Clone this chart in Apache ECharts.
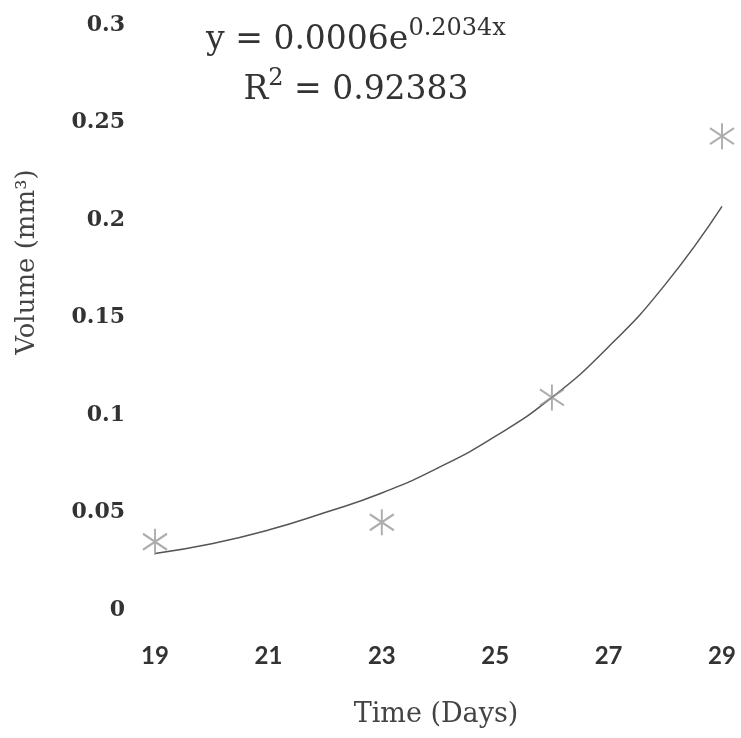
<!DOCTYPE html>
<html>
<head>
<meta charset="utf-8">
<title>Volume vs Time</title>
<script src="https://cdn.jsdelivr.net/npm/echarts@6/dist/echarts.min.js"></script>
<style>
  html, body { margin: 0; padding: 0; background: #fff; }
  #chart { width: 741px; height: 738px; }
</style>
</head>
<body>
<div id="chart"></div>
<script>
// measured points (day, volume)
var days = [19, 23, 26, 29];
var volumes = [0.035, 0.045, 0.109, 0.243];

// exponential trendline
var trendDays = [19, 20, 21, 22, 23, 24, 25, 26, 27, 28, 29];
var trendVolumes = [0.029, 0.034, 0.041, 0.050, 0.060, 0.073, 0.089, 0.109, 0.135, 0.167, 0.207];

var yTicks = { min: 0, max: 0.3, step: 0.05 };
var xTicks = { min: 19, max: 29, step: 2 };

var scatterData = days.map(function (d, i) { return [d, volumes[i]]; });
var trendData = trendDays.map(function (d, i) { return [d, trendVolumes[i]]; });

var chart = echarts.init(document.getElementById('chart'));

var option = {
  backgroundColor: '#fff',
  animation: false,
  grid: { left: 155, right: 19, top: 25, bottom: 128 },
  xAxis: {
    type: 'value',
    min: xTicks.min,
    max: xTicks.max,
    interval: xTicks.step,
    axisLine: { show: false },
    axisTick: { show: false },
    splitLine: { show: false },
    axisLabel: {
      margin: 34,
      color: '#333',
      fontFamily: 'Lato',
      fontWeight: 'bold',
      fontSize: 24
    }
  },
  yAxis: {
    type: 'value',
    min: yTicks.min,
    max: yTicks.max,
    interval: yTicks.step,
    axisLine: { show: false },
    axisTick: { show: false },
    splitLine: { show: false },
    axisLabel: {
      margin: 30,
      color: '#333',
      fontFamily: 'DejaVu Serif',
      fontWeight: 'bold',
      fontSize: 22
    }
  },
  graphic: [
    {
      type: 'text',
      x: 356,
      y: 15,
      style: {
        text: '{a|y = 0.0006e}{s|0.2034x}\n{a|R}{s|2}{a| = 0.92383}',
        align: 'center',
        fill: '#333',
        rich: {
          a: { fontFamily: 'DejaVu Serif', fontSize: 33, lineHeight: 50, color: '#333' },
          s: { fontFamily: 'DejaVu Serif', fontSize: 24, lineHeight: 24, verticalAlign: 'top', padding: [2, 0, 0, 0], color: '#333' }
        }
      }
    },
    {
      type: 'text',
      x: 436,
      y: 715,
      style: {
        text: 'Time (Days)',
        align: 'center',
        verticalAlign: 'middle',
        fontFamily: 'DejaVu Serif',
        fontSize: 27,
        fill: '#444'
      }
    },
    {
      type: 'text',
      x: 27,
      y: 262,
      rotation: Math.PI / 2,
      style: {
        text: 'Volume (mm³)',
        align: 'center',
        verticalAlign: 'middle',
        fontFamily: 'DejaVu Serif',
        fontSize: 26,
        fill: '#444'
      }
    }
  ],
  series: [
    {
      name: 'Trend',
      type: 'line',
      data: trendData,
      smooth: 0.5,
      showSymbol: false,
      lineStyle: { color: '#555', width: 1.5 },
      z: 2
    },
    {
      name: 'Volume',
      type: 'scatter',
      data: scatterData,
      symbol: 'path://M12,0L12,26M0,5L24,21M0,21L24,5',
      symbolSize: [24, 26],
      itemStyle: { color: 'transparent', borderColor: '#999', borderWidth: 2 },
      z: 3
    }
  ]
};

chart.setOption(option);
</script>
</body>
</html>
